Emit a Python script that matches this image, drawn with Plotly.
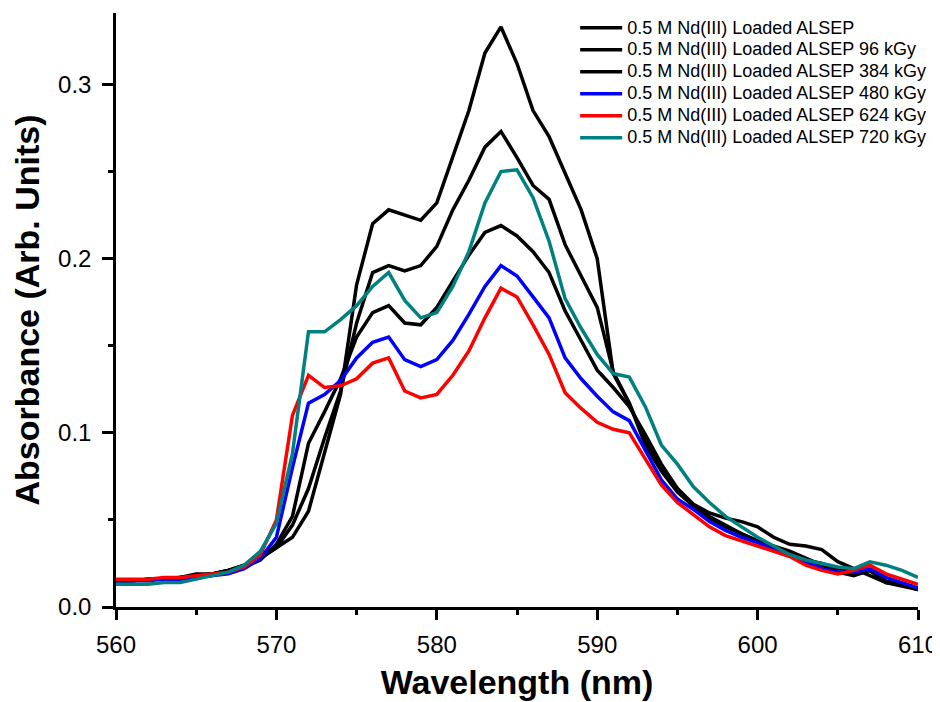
import plotly.graph_objects as go

wavelength = list(range(560, 611))

abs_0kGy = [0.015, 0.015, 0.016, 0.016, 0.017, 0.019, 0.019, 0.021, 0.024, 0.028,
            0.034, 0.040, 0.055, 0.088, 0.122, 0.185, 0.220, 0.228, 0.225, 0.222,
            0.232, 0.258, 0.285, 0.318, 0.333, 0.312, 0.285, 0.270, 0.249, 0.228,
            0.200, 0.134, 0.117, 0.095, 0.080, 0.068, 0.059, 0.054, 0.051, 0.049,
            0.046, 0.040, 0.036, 0.035, 0.033, 0.026, 0.022, 0.018, 0.014, 0.013, 0.010]

abs_96kGy = [0.015, 0.015, 0.016, 0.016, 0.017, 0.018, 0.019, 0.021, 0.024, 0.028,
             0.034, 0.047, 0.068, 0.097, 0.124, 0.163, 0.192, 0.196, 0.193, 0.196,
             0.207, 0.228, 0.245, 0.264, 0.273, 0.258, 0.242, 0.234, 0.208, 0.190,
             0.172, 0.135, 0.117, 0.093, 0.078, 0.066, 0.058, 0.050, 0.046, 0.042,
             0.038, 0.034, 0.031, 0.027, 0.025, 0.022, 0.020, 0.021, 0.015, 0.013, 0.010]

abs_384kGy = [0.015, 0.015, 0.016, 0.016, 0.017, 0.018, 0.019, 0.021, 0.023, 0.027,
              0.036, 0.052, 0.094, 0.112, 0.131, 0.155, 0.169, 0.173, 0.163, 0.162,
              0.172, 0.187, 0.202, 0.215, 0.219, 0.213, 0.204, 0.192, 0.170, 0.153,
              0.136, 0.126, 0.115, 0.099, 0.082, 0.068, 0.058, 0.052, 0.047, 0.042,
              0.038, 0.035, 0.032, 0.028, 0.024, 0.020, 0.018, 0.021, 0.014, 0.012, 0.010]

abs_480kGy = [0.015, 0.015, 0.015, 0.016, 0.016, 0.017, 0.018, 0.019, 0.022, 0.028,
              0.040, 0.080, 0.117, 0.122, 0.130, 0.143, 0.152, 0.155, 0.142, 0.138,
              0.142, 0.153, 0.168, 0.184, 0.196, 0.190, 0.178, 0.166, 0.143, 0.131,
              0.121, 0.112, 0.107, 0.090, 0.073, 0.062, 0.056, 0.049, 0.044, 0.040,
              0.037, 0.033, 0.030, 0.026, 0.022, 0.020, 0.020, 0.022, 0.017, 0.014, 0.011]

abs_624kGy = [0.016, 0.016, 0.016, 0.017, 0.017, 0.018, 0.019, 0.020, 0.023, 0.030,
              0.050, 0.110, 0.133, 0.126, 0.127, 0.131, 0.140, 0.143, 0.124, 0.120,
              0.122, 0.133, 0.147, 0.166, 0.183, 0.178, 0.162, 0.145, 0.123, 0.114,
              0.106, 0.102, 0.100, 0.085, 0.070, 0.060, 0.053, 0.046, 0.041, 0.038,
              0.035, 0.032, 0.029, 0.024, 0.021, 0.019, 0.021, 0.024, 0.019, 0.016, 0.013]

abs_720kGy = [0.013, 0.013, 0.013, 0.014, 0.014, 0.016, 0.018, 0.020, 0.024, 0.032,
              0.048, 0.088, 0.158, 0.158, 0.165, 0.173, 0.184, 0.192, 0.176, 0.166,
              0.169, 0.184, 0.204, 0.232, 0.250, 0.251, 0.235, 0.210, 0.177, 0.160,
              0.145, 0.134, 0.132, 0.115, 0.093, 0.082, 0.069, 0.060, 0.052, 0.046,
              0.040, 0.035, 0.030, 0.027, 0.025, 0.023, 0.022, 0.026, 0.024, 0.021, 0.017]

series_names = ["0.5 M Nd(III) Loaded ALSEP",
                "0.5 M Nd(III) Loaded ALSEP 96 kGy",
                "0.5 M Nd(III) Loaded ALSEP 384 kGy",
                "0.5 M Nd(III) Loaded ALSEP 480 kGy",
                "0.5 M Nd(III) Loaded ALSEP 624 kGy",
                "0.5 M Nd(III) Loaded ALSEP 720 kGy"]
series_values = [abs_0kGy, abs_96kGy, abs_384kGy, abs_480kGy, abs_624kGy, abs_720kGy]
series_colors = ["#000000", "#000000", "#000000", "#0000FF", "#FF0000", "#008080"]

x_ticks = [560, 570, 580, 590, 600, 610]
y_ticks = [0.0, 0.1, 0.2, 0.3]

FONT = "Arial, Liberation Sans, sans-serif"

fig = go.Figure()
for name, vals, col in zip(series_names, series_values, series_colors):
    fig.add_trace(go.Scatter(x=wavelength, y=vals, mode="lines",
                             name='<span style="font-size:18px">' + name + "</span>",
                             line=dict(color=col, width=3.5)))

fig.update_layout(
    width=940, height=702,
    margin=dict(l=108, r=30, t=5, b=103, autoexpand=False),
    paper_bgcolor="white", plot_bgcolor="white",
    font=dict(family=FONT, color="black"),
    showlegend=True,
    legend=dict(x=0.5725, y=1.002, xanchor="left", yanchor="top",
                font=dict(size=14.6, family=FONT), bgcolor="rgba(0,0,0,0)",
                tracegroupgap=0, itemwidth=42),
)
fig.update_xaxes(
    range=[560, 610], tickvals=x_ticks, ticktext=[str(v) for v in x_ticks],
    showgrid=False, zeroline=False, showline=True, linecolor="black", linewidth=2.5,
    ticks="outside", ticklen=10, tickwidth=2.5, tickcolor="black",
    tickfont=dict(size=24, family=FONT), ticklabelstandoff=4,
    minor=dict(tickvals=[565, 575, 585, 595, 605], ticks="outside", ticklen=5,
               tickwidth=2.5, tickcolor="black", showgrid=False),
    title=dict(text="<b>Wavelength (nm)</b>", font=dict(size=34, family=FONT), standoff=14),
    automargin=False,
)
fig.update_yaxes(
    range=[0, 0.341], tickvals=y_ticks, ticktext=["0.0", "0.1", "0.2", "0.3"],
    showgrid=False, zeroline=False, showline=True, linecolor="black", linewidth=2.5,
    ticks="outside", ticklen=11, tickwidth=2.5, tickcolor="black",
    tickfont=dict(size=24, family=FONT), ticklabelstandoff=6,
    minor=dict(tickvals=[0.05, 0.15, 0.25], ticks="outside", ticklen=5,
               tickwidth=2.5, tickcolor="black", showgrid=False),
    title=dict(text="<b>Absorbance (Arb. Units)</b>", font=dict(size=34, family=FONT), standoff=31),
    automargin=False,
)

fig.write_html("out.html")
